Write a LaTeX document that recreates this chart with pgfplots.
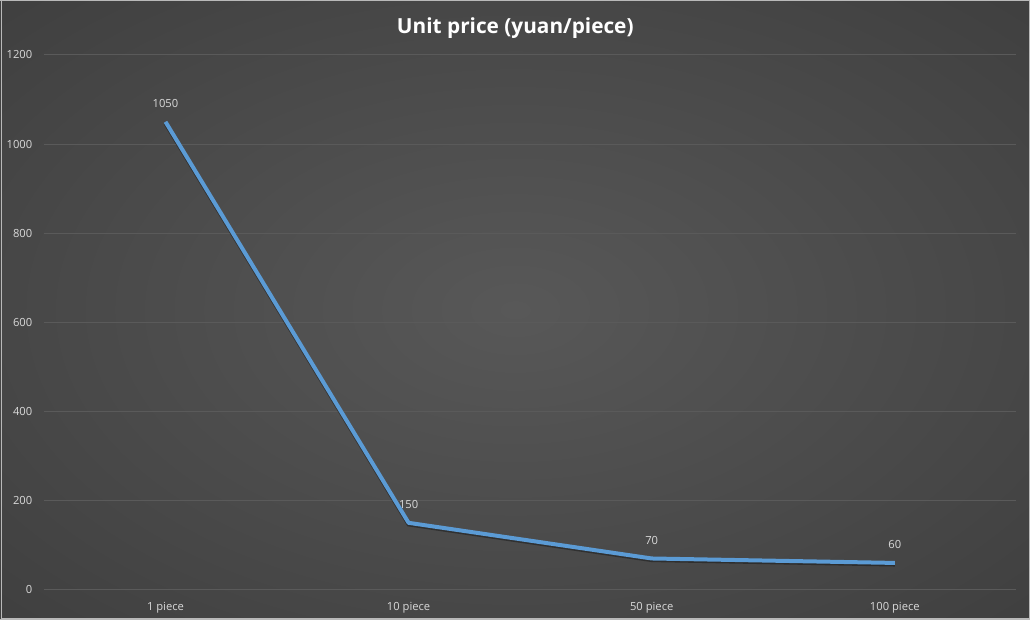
\documentclass[border=0pt]{standalone}
\usepackage{pgfplots}
\pgfplotsset{compat=1.18}
\usepackage{fontspec}
\setmainfont{Open Sans}
\definecolor{bgin}{HTML}{585858}
\definecolor{bgout}{HTML}{262626}
\definecolor{gridc}{HTML}{5A5A5A}
\definecolor{txt}{HTML}{D9D9D9}
\definecolor{linec}{HTML}{5B9BD5}
\pgfdeclareradialshading{bgshade}{\pgfpoint{0bp}{0bp}}{color(0bp)=(bgin); color(72bp)=(bgout)}
\begin{document}
\begin{tikzpicture}
\shade[shading=bgshade] (0pt,0pt) rectangle (515pt,310pt);
\draw[gray!55, line width=0.6pt] (0.3pt,0.3pt) rectangle (514.7pt,309.7pt);
\node[text=white, font=\fontsize{10.4}{12}\selectfont\bfseries] at (257.5pt,296pt) {Unit price (yuan/piece)};
\begin{axis}[
  at={(82.5pt,15pt)}, anchor=origin,
  scale only axis, width=486.5pt, height=267.5pt,
  xmin=-0.5, xmax=3.5, ymin=0, ymax=1200,
  xtick={0,1,2,3}, xticklabels={1 piece,10 piece,50 piece,100 piece},
  ytick={0,200,...,1200},
  ymajorgrids, grid style={gridc, line width=0.5pt},
  axis line style={draw=none}, major tick style={draw=none},
  ticklabel style={text=txt, font=\fontsize{5.6}{6.5}\selectfont},
  /pgf/number format/assume math mode=true,
  /pgf/number format/1000 sep={},
  xticklabel shift=3pt, yticklabel shift=2.3pt,
  clip=false,
]
\addplot[black, opacity=0.35, line width=2pt, yshift=-0.8pt] coordinates {(0,1050) (1,150) (2,70) (3,60)};
\addplot[linec, line width=2pt, line join=round,
  nodes near coords,
  every node near coord/.append style={text=txt, font=\fontsize{5.6}{6.5}\selectfont, anchor=center, yshift=9pt, inner sep=0pt},
  /pgf/number format/1000 sep={}] coordinates {(0,1050) (1,150) (2,70) (3,60)};
\end{axis}
\end{tikzpicture}
\end{document}
